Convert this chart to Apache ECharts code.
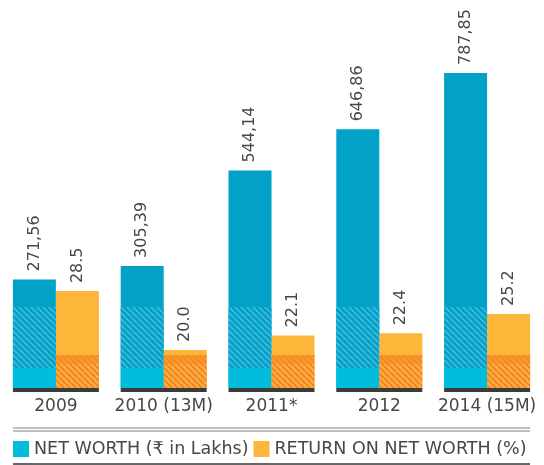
<!DOCTYPE html>
<html>
<head>
<meta charset="utf-8">
<script src="https://cdn.jsdelivr.net/npm/echarts@6/dist/echarts.min.js"></script>
<style>
  html, body { margin: 0; padding: 0; background: #fff; }
  #chart { width: 544px; height: 465px; }
</style>
</head>
<body>
<div id="chart"></div>
<script>
const categories = ['2009', '2010 (13M)', '2011*', '2012', '2014 (15M)'];
const netWorth = [271.56, 305.39, 544.14, 646.86, 787.85];
const returnOnNetWorth = [28.5, 20.0, 22.1, 22.4, 25.2];

const BAR_W = 43;
const FONT = '"DejaVu Sans", "Noto Sans", sans-serif';

// small striped tile, stripes running "\"
function stripes(base, stripe, size, width) {
  const c = document.createElement('canvas');
  c.width = size; c.height = size;
  const ctx = c.getContext('2d');
  ctx.fillStyle = base;
  ctx.fillRect(0, 0, size, size);
  ctx.strokeStyle = stripe;
  ctx.lineWidth = width;
  for (let k = -1; k <= 1; k++) {
    ctx.beginPath();
    ctx.moveTo(k * size, 0);
    ctx.lineTo(k * size + size, size);
    ctx.stroke();
  }
  return { image: c, repeat: 'repeat' };
}

const blueHatch = stripes('#059dc4', '#33bbdf', 6, 2);
const orangeHatch = stripes('#fbb13b', '#f3832a', 6, 2.2);
const orangeBand = stripes('#f7982e', '#f48a24', 6, 2);

// bands are fixed pixel heights above the baseline, clipped to the bar top
function band(x, base, top, from, to, fill) {
  const y1 = Math.max(base - to, top);
  const y0 = base - from;
  return { type: 'rect', shape: { x: x, y: y1, width: BAR_W, height: Math.max(0, y0 - y1) }, style: { fill: fill } };
}

function blueOverlay(params, api) {
  const i = api.value(0);
  const cx = api.coord([i, 0])[0];
  const top = api.coord([i, api.value(1)])[1];
  const base = params.coordSys.y + params.coordSys.height;
  const x = cx - BAR_W;
  return {
    type: 'group',
    children: [
      band(x, base, top, 0, 20, '#00bddc'),
      band(x, base, top, 20, 81, blueHatch),
      { type: 'rect', shape: { x: cx - BAR_W, y: base, width: BAR_W * 2, height: 4 }, style: { fill: '#3b3b3b' } }
    ]
  };
}

function orangeOverlay(params, api) {
  const i = api.value(0);
  const cx = api.coord([i, api.value(1)])[0];
  const top = api.coord([i, api.value(1)])[1];
  const base = params.coordSys.y + params.coordSys.height;
  return {
    type: 'group',
    children: [
      band(cx, base, top, 0, 24, orangeHatch),
      band(cx, base, top, 24, 33, orangeBand)
    ]
  };
}

const barLabel = {
  show: true,
  position: 'top',
  distance: 8,
  rotate: 90,
  align: 'left',
  verticalAlign: 'middle',
  fontFamily: FONT,
  fontSize: 16,
  color: '#474747'
};

const chart = echarts.init(document.getElementById('chart'));
chart.setOption({
  animation: false,
  grid: { left: 2, right: 3, top: 73, bottom: 77 },
  legend: {
    left: 13,
    top: 440,
    padding: 0,
    icon: 'rect',
    itemWidth: 16,
    itemHeight: 16,
    itemGap: 5,
    textStyle: { fontFamily: FONT, fontSize: 17.5, color: '#474747' },
    data: [
      { name: 'NET WORTH (₹ in Lakhs)', itemStyle: { color: '#00bddc' } },
      { name: 'RETURN ON NET WORTH (%)', itemStyle: { color: '#fdb53a' } }
    ]
  },
  xAxis: {
    type: 'category',
    data: categories,
    axisLine: { show: false },
    axisTick: { show: false },
    axisLabel: { margin: 10, fontFamily: FONT, fontSize: 17, color: '#474747', interval: 0 }
  },
  yAxis: [
    { type: 'value', min: 0, max: 787.85, show: false },
    { type: 'value', min: 14.5, max: 60, show: false }
  ],
  series: [
    {
      name: 'NET WORTH (₹ in Lakhs)',
      type: 'bar',
      yAxisIndex: 0,
      barWidth: BAR_W,
      barGap: '0%',
      data: netWorth,
      itemStyle: { color: '#02a2c8' },
      label: Object.assign({}, barLabel, { formatter: p => p.value.toFixed(2).replace('.', ',') })
    },
    {
      name: 'RETURN ON NET WORTH (%)',
      type: 'bar',
      yAxisIndex: 1,
      barWidth: BAR_W,
      barGap: '0%',
      data: returnOnNetWorth,
      itemStyle: { color: '#fdb53a' },
      label: Object.assign({}, barLabel, { formatter: p => p.value.toFixed(1) })
    },
    {
      type: 'custom',
      yAxisIndex: 0,
      z: 3,
      silent: true,
      renderItem: blueOverlay,
      data: netWorth.map((v, i) => [i, v])
    },
    {
      type: 'custom',
      yAxisIndex: 1,
      z: 3,
      silent: true,
      renderItem: orangeOverlay,
      data: returnOnNetWorth.map((v, i) => [i, v])
    }
  ],
  graphic: [
    { type: 'line', shape: { x1: 13, y1: 428, x2: 530, y2: 428 }, style: { stroke: '#aaa', lineWidth: 1.5 } },
    { type: 'line', shape: { x1: 13, y1: 431, x2: 530, y2: 431 }, style: { stroke: '#aaa', lineWidth: 1.5 } },
    { type: 'line', shape: { x1: 13, y1: 464, x2: 530, y2: 464 }, style: { stroke: '#333', lineWidth: 1.5 } }
  ]
});
</script>
</body>
</html>
